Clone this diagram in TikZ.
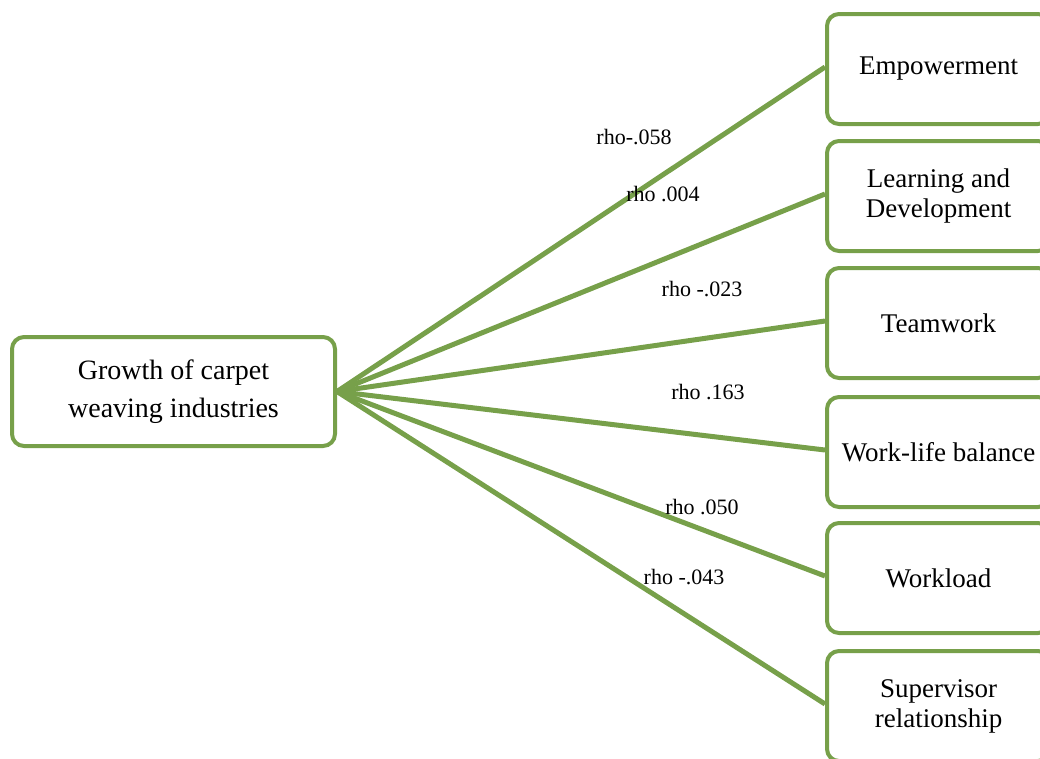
\documentclass[tikz,border=0pt]{standalone}
\usepackage{fontspec}
\setmainfont{Liberation Serif}
\usetikzlibrary{calc}
\definecolor{leaf}{RGB}{119,160,74}

\begin{document}
\begin{tikzpicture}[x=1pt, y=-1pt, draw=leaf,
    factor/.style={draw=leaf, line width=4pt, rounded corners=12pt, fill=white,
      minimum width=223pt, minimum height=110pt, align=center, font=\fontsize{27}{30}\selectfont},
    link/.style={draw=leaf, line width=5pt},
    rholabel/.style={font=\fontsize{22}{26}\selectfont, inner sep=1pt}]
        \useasboundingbox (0,0) rectangle (1040,758);
        \node[factor, minimum width=323pt, minimum height=109pt, font=\fontsize{28}{38}\selectfont] (growth) at (173.5,391.5) {Growth of carpet\\weaving industries};
        \foreach \name/\txt/\y in {emp/Empowerment/69, learn/{Learning and\\Development}/196,
          team/Teamwork/323, wlb/Work-life balance/452, load/Workload/578,
          super/{Supervisor\\relationship}/706} {
          \node[factor] (\name) at (938.5,\y) {\txt};
          \draw[link] (growth.east) -- ($(\name.west)+(0,-2)$);
        }
        \node[rholabel] (r1) at (634,137) {rho-.058};
        \node[rholabel] (r2) at (663,194) {rho .004};
        \node[rholabel] (r3) at (702,289) {rho -.023};
        \node[rholabel] (r4) at (708,392) {rho .163};
        \node[rholabel] (r5) at (702,507) {rho .050};
        \node[rholabel] (r6) at (684,577) {rho -.043};
      \end{tikzpicture}
\end{document}
